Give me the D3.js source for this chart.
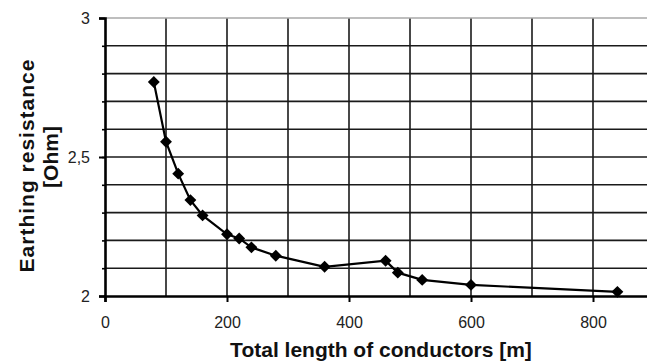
<!DOCTYPE html>
<html>
<head>
<meta charset="utf-8">
<script src="https://cdn.jsdelivr.net/npm/d3@7"></script>
<style>
  html, body { margin: 0; padding: 0; background: #fff; }
  svg { display: block; }
  text { font-family: "Liberation Sans", Arial, sans-serif; }
</style>
</head>
<body>
<svg id="chart" width="647" height="363"></svg>
<script>
// Total conductor length [m] and the resulting earthing resistance [Ohm]
const lengths = [80, 100, 120, 140, 160, 200, 220, 240, 280, 360, 460, 480, 520, 600, 840];
const resistance = [2.77, 2.555, 2.44, 2.345, 2.29, 2.222, 2.207, 2.175, 2.145, 2.105, 2.127, 2.084, 2.058, 2.04, 2.015];

const xTickValues = [0, 200, 400, 600, 800];
const yTickValues = [2, 2.5, 3];
const xGridValues = [100, 200, 300, 400, 500, 600, 700, 800];
const yGridValues = [2.1, 2.2, 2.3, 2.4, 2.5, 2.6, 2.7, 2.8, 2.9];

const svg = d3.select("#chart");
const plotLeft = 105, plotTop = 18, plotBottom = 296;

const x = d3.scaleLinear().domain([0, 900]).range([plotLeft, plotLeft + 900 * 0.61]);
const y = d3.scaleLinear().domain([2, 3]).range([plotBottom, plotTop]);
const fmt = d => String(d).replace(".", ",");

// grid
const grid = svg.append("g");
grid.selectAll(".vg").data(xGridValues).join("line")
  .attr("x1", d => x(d)).attr("x2", d => x(d))
  .attr("y1", plotTop).attr("y2", plotBottom)
  .attr("stroke", "#1a1a1a").attr("stroke-width", 1.6);
grid.selectAll(".hg").data(yGridValues).join("line")
  .attr("x1", plotLeft).attr("x2", 647)
  .attr("y1", d => y(d)).attr("y2", d => y(d))
  .attr("stroke", "#1a1a1a").attr("stroke-width", 1.6);
// top border of the plot area
grid.append("line")
  .attr("x1", plotLeft).attr("x2", 647).attr("y1", y(3)).attr("y2", y(3))
  .attr("stroke", "#a8a8a8").attr("stroke-width", 1.6);

// y axis: major ticks with labels, minor ticks at every grid line
const yAxis = d3.axisLeft(y).tickValues(yTickValues).tickFormat(fmt).tickSize(6).tickPadding(9);
const gy = svg.append("g").attr("transform", `translate(${plotLeft},0)`).call(yAxis);
gy.select(".domain").attr("stroke", "#000").attr("stroke-width", 2.6);
gy.selectAll(".tick line").attr("stroke", "#000").attr("stroke-width", 2);
gy.selectAll(".tick text").attr("font-size", 16).attr("fill", "#222")
  .attr("font-family", "'Liberation Sans', Arial, sans-serif");
const yMinor = d3.axisLeft(y).tickValues(yGridValues).tickFormat("").tickSize(3);
const gym = svg.append("g").attr("transform", `translate(${plotLeft},0)`).call(yMinor);
gym.select(".domain").remove();
gym.selectAll(".tick line").attr("stroke", "#000").attr("stroke-width", 1.6);

// x axis
const xAxis = d3.axisBottom(x).tickValues(xTickValues).tickSize(6).tickPadding(15);
const gx = svg.append("g").attr("transform", `translate(0,${plotBottom})`).call(xAxis);
gx.select(".domain").attr("stroke", "#000").attr("stroke-width", 2.6);
gx.selectAll(".tick line").attr("stroke", "#000").attr("stroke-width", 2);
gx.selectAll(".tick text").attr("font-size", 16).attr("fill", "#222")
  .attr("font-family", "'Liberation Sans', Arial, sans-serif");

// data line and diamond markers
const pts = lengths.map((d, i) => [d, resistance[i]]);
svg.append("path")
  .datum(pts)
  .attr("fill", "none").attr("stroke", "#000").attr("stroke-width", 2.2)
  .attr("d", d3.line().x(d => x(d[0])).y(d => y(d[1])));
svg.selectAll(".pt").data(pts).join("path")
  .attr("transform", d => `translate(${x(d[0])},${y(d[1])})`)
  .attr("d", d3.symbol(d3.symbolDiamond2, 90)())
  .attr("fill", "#000");

// axis titles
svg.append("text")
  .attr("x", 381).attr("y", 357)
  .attr("text-anchor", "middle").attr("font-size", 21).attr("font-weight", "bold")
  .attr("fill", "#111")
  .text("Total length of conductors [m]");
svg.append("text")
  .attr("transform", "translate(33.5,165.5) rotate(-90)")
  .attr("text-anchor", "middle").attr("font-size", 21).attr("font-weight", "bold")
  .attr("letter-spacing", 1).attr("fill", "#111")
  .text("Earthing resistance");
svg.append("text")
  .attr("transform", "translate(58,157) rotate(-90)")
  .attr("text-anchor", "middle").attr("font-size", 21).attr("font-weight", "bold")
  .attr("fill", "#111")
  .text("[Ohm]");
</script>
</body>
</html>
